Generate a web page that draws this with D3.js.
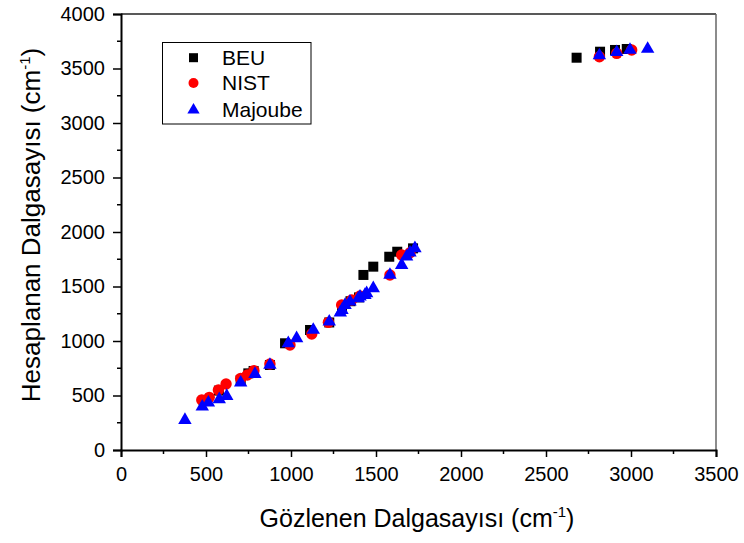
<!DOCTYPE html>
<html><head><meta charset="utf-8">
<script src="https://cdn.jsdelivr.net/npm/d3@7"></script>
<style>body{margin:0;background:#fff}svg{display:block;font-family:"Liberation Sans",Arial,sans-serif}</style>
</head><body><svg id="c" width="744" height="543"></svg>
<script>
const beu = [[486,455],[576,545],[704,640],[749,703],[780,725],[876,780],[965,979],[1112,1101],[1225,1170],[1300,1310],[1350,1365],[1400,1400],[1426,1606],[1484,1682],[1578,1773],[1625,1819],[1718,1850],[2680,3599],[2818,3654],[2906,3670],[2975,3679]];
const nist = [[475,459],[519,483],[573,550],[618,605],[704,657],[743,688],[782,728],[876,789],[994,963],[1122,1064],[1220,1171],[1298,1330],[1357,1376],[1406,1413],[1582,1606],[1651,1789],[1700,1810],[2814,3608],[2916,3639],[3004,3670]];
const majoube = [[376,275],[478,397],[514,434],[578,465],[622,495],[704,618],[788,697],[876,780],[984,979],[1033,1025],[1131,1101],[1225,1177],[1290,1260],[1300,1284],[1318,1330],[1347,1361],[1396,1391],[1406,1407],[1435,1422],[1445,1437],[1484,1483],[1582,1606],[1651,1697],[1680,1774],[1700,1810],[1729,1850],[2814,3620],[2916,3650],[2994,3670],[3098,3679]];
const xTicks = [0,500,1000,1500,2000,2500,3000,3500];
const yTicks = [0,500,1000,1500,2000,2500,3000,3500,4000];
const seriesNames = ["BEU","NIST","Majoube"];

const svg = d3.select("#c");
const L=121,R=716,T=14,B=450;
const x = d3.scaleLinear().domain([0,3500]).range([L,R]);
const y = d3.scaleLinear().domain([0,4000]).range([B,T]);

// frame top/right
svg.append("line").attr("x1",L).attr("x2",R).attr("y1",T).attr("y2",T).attr("stroke","#222").attr("stroke-width",1.5);
svg.append("line").attr("x1",R).attr("x2",R).attr("y1",T).attr("y2",B).attr("stroke","#666").attr("stroke-width",1.5);

// minor ticks
const xMinor = d3.range(250,3500,500);
const yMinor = d3.range(250,4000,500);
svg.append("g").selectAll("line").data(xMinor).join("line")
  .attr("x1",d=>x(d)).attr("x2",d=>x(d)).attr("y1",B).attr("y2",B+4).attr("stroke","#000").attr("stroke-width",1.5);
svg.append("g").selectAll("line").data(yMinor).join("line")
  .attr("x1",L-4).attr("x2",L).attr("y1",d=>y(d)).attr("y2",d=>y(d)).attr("stroke","#000").attr("stroke-width",1.5);

const xa = svg.append("g").attr("transform",`translate(0,${B})`)
  .call(d3.axisBottom(x).tickValues(xTicks).tickSizeOuter(0).tickSize(7).tickPadding(10).tickFormat(d3.format("d")));
const ya = svg.append("g").attr("transform",`translate(${L},0)`)
  .call(d3.axisLeft(y).tickValues(yTicks).tickSizeOuter(0).tickSize(8).tickPadding(8).tickFormat(d3.format("d")));
[xa,ya].forEach(a=>{
  a.select(".domain").attr("stroke","#000").attr("stroke-width",2);
  a.selectAll(".tick line").attr("stroke","#000").attr("stroke-width",1.5);
  a.selectAll(".tick text").attr("font-size",20).attr("fill","#000").attr("font-family","Liberation Sans, Arial, sans-serif");
});

// marks
const g = svg.append("g");
g.selectAll("rect.beu").data(beu).join("rect").attr("class","beu")
  .attr("x",d=>x(d[0])-5).attr("y",d=>y(d[1])-5).attr("width",10).attr("height",10).attr("fill","#000");
g.selectAll("circle.nist").data(nist).join("circle").attr("class","nist")
  .attr("cx",d=>x(d[0])).attr("cy",d=>y(d[1])).attr("r",5.7).attr("fill","#ff0000");
const tri = d3.symbol().type(d3.symbolTriangle).size(78);
g.selectAll("path.maj").data(majoube).join("path").attr("class","maj")
  .attr("transform",d=>`translate(${x(d[0])},${y(d[1])})`).attr("d",tri).attr("fill","#0000ff");

// legend
const lg = svg.append("g");
lg.append("rect").attr("x",162.5).attr("y",42.5).attr("width",148.5).attr("height",81.5).attr("fill","#fff").attr("stroke","#000").attr("stroke-width",1);
const rows=[57.7,83,110];
lg.append("rect").attr("x",189).attr("y",rows[0]-4.5).attr("width",9).attr("height",9).attr("fill","#000");
lg.append("circle").attr("cx",193.5).attr("cy",rows[1]).attr("r",5).attr("fill","#ff0000");
lg.append("path").attr("transform",`translate(193.5,${rows[2]})`).attr("d",d3.symbol().type(d3.symbolTriangle).size(65)).attr("fill","#0000ff");
seriesNames.forEach((n,i)=>{
  lg.append("text").attr("x",222).attr("y",rows[i]+7.3).attr("font-size",21).text(n);
});

// axis titles
const xt = svg.append("text").attr("x",417).attr("y",527).attr("text-anchor","middle").attr("font-size",25);
xt.append("tspan").text("Gözlenen Dalgasayısı (cm");
xt.append("tspan").attr("dy",-10).attr("font-size",15).text("-1");
xt.append("tspan").attr("dy",10).text(")");
const yt = svg.append("text").attr("transform","translate(40,225) rotate(-90)").attr("text-anchor","middle").attr("font-size",26);
yt.append("tspan").text("Hesaplanan Dalgasayısı (cm");
yt.append("tspan").attr("dy",-10).attr("font-size",15).text("-1");
yt.append("tspan").attr("dy",10).text(")");
</script></body></html>
